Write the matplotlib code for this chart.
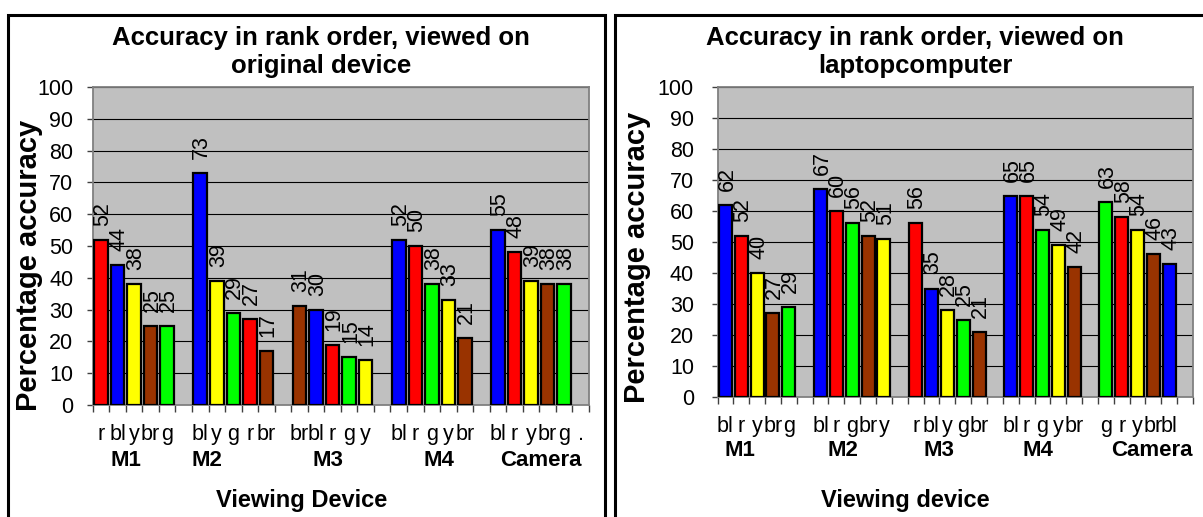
import matplotlib
matplotlib.use("Agg")
import matplotlib.pyplot as plt
from matplotlib.patches import Rectangle
from matplotlib.transforms import blended_transform_factory

plt.rcParams['font.family'] = ['Liberation Sans', 'DejaVu Sans']

W, H = 1203, 517

groups = ["M1", "M2", "M3", "M4", "Camera"]

# colour code of each bar, rank order within each group
orig_codes = [["r", "bl", "y", "br", "g"],
              ["bl", "y", "g", "r", "br"],
              ["br", "bl", "r", "g", "y"],
              ["bl", "r", "g", "y", "br"],
              ["bl", "r", "y", "br", "g"]]
orig_vals = [[52, 44, 38, 25, 25],
             [73, 39, 29, 27, 17],
             [31, 30, 19, 15, 14],
             [52, 50, 38, 33, 21],
             [55, 48, 39, 38, 38]]

lap_codes = [["bl", "r", "y", "br", "g"],
             ["bl", "r", "g", "br", "y"],
             ["r", "bl", "y", "g", "br"],
             ["bl", "r", "g", "y", "br"],
             ["g", "r", "y", "br", "bl"]]
lap_vals = [[62, 52, 40, 27, 29],
            [67, 60, 56, 52, 51],
            [56, 35, 28, 25, 21],
            [65, 65, 54, 49, 42],
            [63, 58, 54, 46, 43]]

colors = {"r": "#FF0000", "bl": "#0000FF", "y": "#FFFF00",
          "br": "#993300", "g": "#00FF00"}

FS = 15.5


def px_axes(fig, left, right, top, bottom):
    return fig.add_axes([left / W, 1 - bottom / H, (right - left) / W, (bottom - top) / H])


def draw_panel(fig, ax, codes, vals, title_lines, xlabel, last_label,
               group_x, group_y, title_cx, xlabel_cx, ylabel_pos, ypad):
    ax.set_facecolor("#C0C0C0")
    ax.set_xlim(0, 30)
    ax.set_ylim(0, 100)
    ax.set_yticks(range(0, 101, 10))
    ax.grid(axis="y", color="black", lw=0.8)
    ax.set_axisbelow(True)
    for s in ax.spines.values():
        s.set_color("#808080")
        s.set_linewidth(1.3)

    centers, labels = [], []
    for g in range(5):
        for k in range(5):
            x = 6 * g + k + 0.5
            v = vals[g][k]
            ax.bar(x, v, width=0.82, color=colors[codes[g][k]],
                   edgecolor="black", lw=1.6, zorder=3)
            ax.annotate(str(v), (x, v), xytext=(1.5, 14), textcoords="offset pixels",
                        rotation=90, ha="center", va="bottom", fontsize=FS, zorder=4)
            centers.append(x)
            labels.append(codes[g][k])
        centers.append(6 * g + 5.5)
        labels.append("")
    labels[-1] = last_label

    ax.set_xticks(range(31))
    ax.set_xticklabels([])
    ax.tick_params(axis="x", which="major", direction="out", length=5,
                   width=1, color="#404040")
    ax.set_xticks(centers, minor=True)
    ax.set_xticklabels(labels, minor=True, fontsize=FS)
    ax.tick_params(axis="x", which="minor", length=0, pad=14)
    ax.tick_params(axis="y", direction="out", length=4, width=1,
                   color="#404040", labelsize=FS, pad=ypad)

    fig.text(ylabel_pos[0] / W, 1 - ylabel_pos[1] / H, "Percentage accuracy",
             rotation=90, ha="center", va="center", fontsize=21, fontweight="bold")

    tr = blended_transform_factory(ax.transData, fig.transFigure)
    for name, gx in zip(groups, group_x):
        ax.text(gx, 1 - group_y / H, name, transform=tr, ha="center", va="center",
                fontsize=16, fontweight="bold")

    fig.text(title_cx / W, 1 - 38 / H, title_lines[0], ha="center", va="center",
             fontsize=18.5, fontweight="bold")
    fig.text(title_cx / W, 1 - 66 / H, title_lines[1], ha="center", va="center",
             fontsize=18.5, fontweight="bold")
    fig.text(xlabel_cx / W, 1 - 500 / H, xlabel, ha="center", va="center",
             fontsize=17, fontweight="bold")


fig = plt.figure(figsize=(W / 100, H / 100), dpi=100)

ax1 = px_axes(fig, 92.7, 589, 87, 405)
draw_panel(fig, ax1, orig_codes, orig_vals,
           ["Accuracy in rank order, viewed on", "original device"],
           "Viewing Device", ".",
           [2.0, 6.9, 14.2, 20.9, 27.1], 461, 321, 302, (29, 265), 10)

ax2 = px_axes(fig, 717.5, 1193, 87, 397)
draw_panel(fig, ax2, lap_codes, lap_vals,
           ["Accuracy in rank order, viewed on", "laptopcomputer"],
           "Viewing device", "",
           [1.4, 7.9, 14.0, 20.2, 27.4], 451, 915, 905, (637, 257), 13)

# panel frames
fig.add_artist(Rectangle((8 / W, -0.1), (605 - 8) / W, (H - 15) / H + 0.1,
                         transform=fig.transFigure, fill=False, ec="black", lw=2.2))
fig.add_artist(Rectangle((615 / W, -0.1), 0.6, (H - 15) / H + 0.1,
                         transform=fig.transFigure, fill=False, ec="black", lw=2.2))

fig.savefig("out.png", dpi=100)
